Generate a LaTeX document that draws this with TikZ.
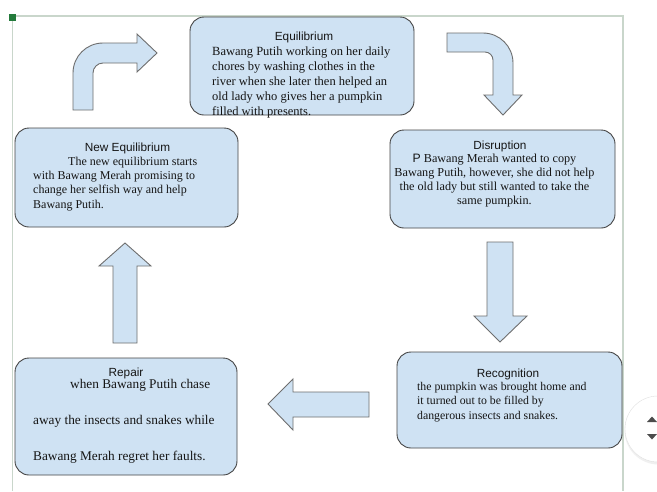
\documentclass[tikz,border=0pt]{standalone}
\usepackage{fontspec}
\setmainfont{Liberation Serif}
\setsansfont{Liberation Sans}
\definecolor{boxfill}{HTML}{CFE2F3}
\definecolor{boxline}{HTML}{454545}
\definecolor{arrowline}{HTML}{6E6E6E}
\definecolor{ink}{HTML}{151515}
\definecolor{frameline}{HTML}{C9D6CB}
\definecolor{handle}{HTML}{237A3B}
\newcommand\txtsize[2]{\fontsize{#1}{#2}\selectfont}
\tikzset{
  boxnode/.style={draw=boxline, fill=boxfill, rounded corners=14pt, line width=0.9pt, inner sep=0pt},
  titletext/.style={font=\sffamily\txtsize{11.8}{14}, inner sep=0pt, text=ink, anchor=base},
  bodytext/.style={inner sep=0pt, text=ink, anchor=north west, align=left},
  blockarrow/.style={draw=arrowline, fill=boxfill, line width=0.9pt, line join=miter},
}
\begin{document}
\begin{tikzpicture}[x=1pt,y=-1pt]
\useasboundingbox (0,0) rectangle (657,491);
\fill[white] (0,0) rectangle (657,491);

% page frame with its selection handle
\draw[frameline, line width=1.2pt] (12.5,491) -- (12.5,16) -- (623,16) -- (623,491);
\fill[handle] (9,13.5) rectangle (16,20.5);

% story stages
\node[boxnode, minimum width=224pt, minimum height=98pt] (eq) at (302,66) {};
\node[boxnode, minimum width=225pt, minimum height=98pt] (dis) at (502.5,179) {};
\node[boxnode, minimum width=223pt, minimum height=99pt] (neq) at (126.5,177.5) {};
\node[boxnode, minimum width=225pt, minimum height=96pt] (rec) at (509.5,400) {};
\node[boxnode, minimum width=222pt, minimum height=117pt] (rep) at (126,416.5) {};

% titles
\node[titletext] (eqt) at (304,40.2) {Equilibrium};
\node[titletext] (dist) at (500,149.2) {Disruption};
\node[titletext] (neqt) at (127.5,151.2) {New Equilibrium};
\node[titletext] (rect) at (508,377.2) {Recognition};
\node[titletext] (rept) at (126,376.2) {Repair};

% descriptions
\node[bodytext, font=\txtsize{12.5}{15}] (eqb) at (212,46.5)
  {Bawang Putih working on her daily\\chores by washing clothes in the\\river when she later then helped an\\old lady who gives her a pumpkin\\filled with presents.};
\node[bodytext, anchor=north, align=center, font=\txtsize{12.2}{14}] (disb) at (494.5,153.5)
  {\textsf{P} Bawang Merah wanted to copy\\Bawang Putih, however, she did not help\\the old lady but still wanted to take the\\same pumpkin.};
\node[bodytext, font=\txtsize{12}{14.3}] (neqb) at (33,156.8)
  {\hspace*{35pt}The new equilibrium starts\\with Bawang Merah promising to\\change her selfish way and help\\Bawang Putih.};
\node[bodytext, font=\txtsize{11.8}{14.5}] (recb) at (417,382)
  {the pumpkin was brought home and\\it turned out to be filled by\\dangerous insects and snakes.};
\node[bodytext, font=\txtsize{13.3}{36}] (repb) at (33,379)
  {\hspace*{37pt}when Bawang Putih chase\\away the insects and snakes while\\Bawang Merah regret her faults.};

% block arrows between the stages
\draw[blockarrow] (73,110) -- (73,73) .. controls (73,56.4) and (86.4,43) .. (103,43)
  -- (137,43) -- (137,34) -- (157,53) -- (137,72) -- (137,63) -- (103,63)
  .. controls (97.5,63) and (93,67.5) .. (93,73) -- (93,110) -- cycle;
\draw[blockarrow] (447,33) -- (483,33) .. controls (499.6,33) and (513,46.4) .. (513,63)
  -- (513,95) -- (522,95) -- (503,115) -- (484,95) -- (493,95) -- (493,60)
  .. controls (493,55.6) and (489.4,52) .. (485,52) -- (447,52) -- cycle;
\draw[blockarrow] (487,242) -- (513,242) -- (513,316) -- (527,316) -- (500,342)
  -- (474,316) -- (487,316) -- cycle;
\draw[blockarrow] (369,392) -- (293,392) -- (293,379) -- (268,404) -- (293,430)
  -- (293,417) -- (369,417) -- cycle;
\draw[blockarrow] (113,343) -- (113,266) -- (99,266) -- (125,243) -- (151,266)
  -- (137,266) -- (137,343) -- cycle;

% scroll button at the right edge
\fill[black!6] (658.5,430.5) circle (34);
\node[circle, draw=black!12, fill=white, minimum size=66pt, inner sep=0pt] (scroll) at (658,429) {};
\fill[black!70] (647,422) -- (657,422) -- (652,416.5) -- cycle;
\fill[black!70] (647,434) -- (657,434) -- (652,439.5) -- cycle;
\end{tikzpicture}
\end{document}
